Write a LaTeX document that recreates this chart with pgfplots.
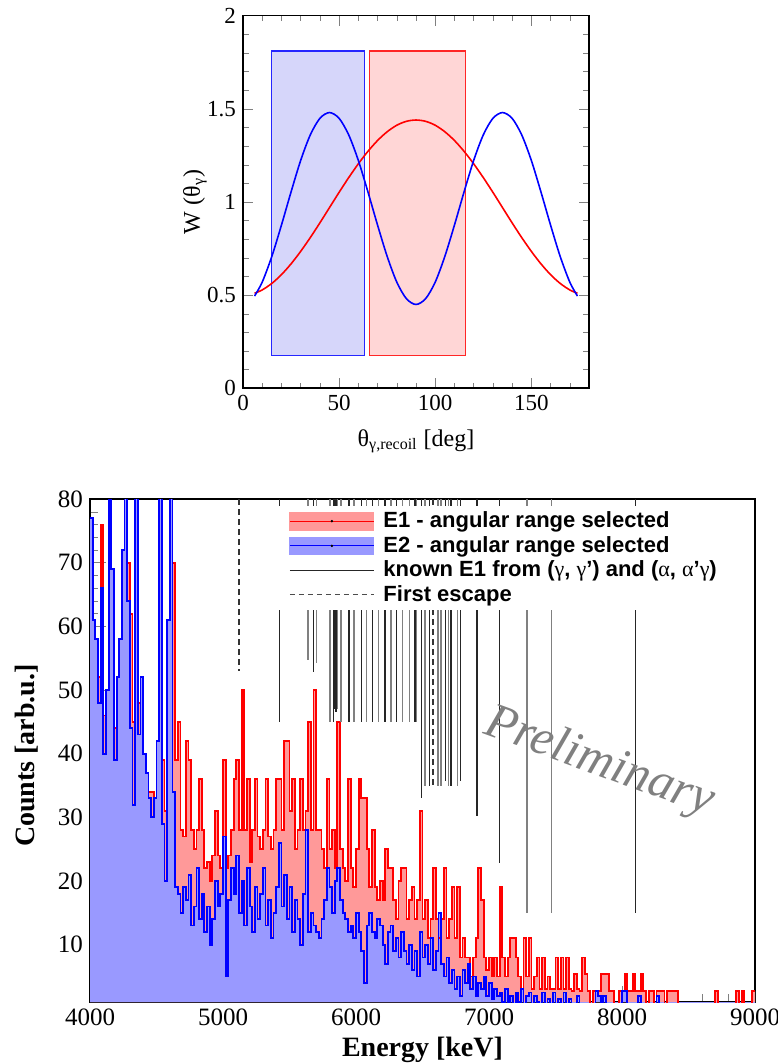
\documentclass[border=0pt]{standalone}
\usepackage{fontspec}
\setmainfont{Liberation Serif}
\setsansfont{Liberation Sans}
\usepackage{pgfplots}
\usepackage{pgfplotstable}
\pgfplotsset{compat=1.18}

\definecolor{histblue}{RGB}{153,153,255}
\definecolor{histred}{RGB}{255,153,153}
\definecolor{boxblue}{RGB}{214,214,250}
\definecolor{boxred}{RGB}{255,214,214}
\newcommand{\gr}[1]{{\rmfamily\mdseries #1}}

% 20 keV bins: E = lower bin edge, B = E2 selection, R = E1 selection
\pgfplotstableread{
E B R
4000 77 77
4020 61 61
4040 58 58
4060 48 52
4080 66 76
4100 40 46
4120 50 50
4140 130 130
4160 69 69
4180 39 44
4200 52 52
4220 58 58
4240 72 72
4260 130 130
4280 64 70
4300 44 62
4320 32 45
4340 130 130
4360 43 48
4380 52 52
4400 40 40
4420 37 37
4440 33 34
4460 30 34
4480 33 33
4500 42 42
4520 140 140
4540 29 39
4560 20 31
4580 61 61
4600 150 150
4620 34 70
4640 19 39
4660 18 45
4680 15 28
4700 19 27
4720 17 42
4740 21 39
4760 13 28
4780 16 25
4800 22 28
4820 14 36
4840 18 28
4860 12 22
4880 16 23
4900 10 20
4920 14 24
4940 20 31
4960 16 24
4980 18 22
5000 27 39
5020 5 22
5040 17 24
5060 22 28
5080 18 36
5100 24 39
5120 15 28
5140 20 50
5160 13 28
5180 22 36
5200 16 23
5220 12 28
5240 19 36
5260 14 27
5280 18 25
5300 22 28
5320 13 36
5340 17 27
5360 11 25
5380 15 28
5400 19 36
5420 26 36
5440 16 28
5460 21 42
5480 14 42
5500 19 31
5520 12 36
5540 17 25
5560 14 28
5580 10 36
5600 18 28
5620 28 31
5640 12 45
5660 15 28
5680 13 50
5700 12 28
5720 11 28
5740 14 25
5760 17 22
5780 22 36
5800 19 25
5820 15 28
5840 20 22
5860 22 45
5880 17 25
5900 15 22
5920 14 20
5940 12 36
5960 13 22
5980 11 19
6000 15 25
6020 12 36
6040 9 33
6060 4 33
6080 13 25
6100 15 19
6120 12 28
6140 11 19
6160 14 17
6180 13 20
6200 10 17
6220 7 25
6240 12 22
6260 13 22
6280 9 17
6300 11 14
6320 8 20
6340 12 22
6360 9 22
6380 7 14
6400 10 17
6420 6 19
6440 9 14
6460 5 17
6480 12 31
6500 8 14
6520 10 17
6540 7 11
6560 11 14
6580 6 22
6600 9 14
6620 15 11
6640 7 14
6660 5 22
6680 8 11
6700 4 14
6720 6 19
6740 3 11
6760 5 19
6780 2 8
6800 6 11
6820 4 8
6840 7 8
6860 3 5
6880 5 8
6900 2 11
6920 4 22
6940 3 17
6960 5 8
6980 2 6
7000 4 8
7020 1.5 5
7040 3 8
7060 2 5
7080 2.5 19
7100 1 8
7120 3 5
7140 1 8
7160 2 11
7180 0 11
7200 2.5 8
7220 1 5
7240 3 3
7260 0 11
7280 2 5
7300 2.5 11
7320 0 3
7340 2 5
7360 1 8
7380 0 3
7400 2.5 8
7420 0 3
7440 1.5 5
7460 0 3
7480 2.5 3
7500 0 8
7520 1.5 3
7540 0 8
7560 2.5 3
7580 0 8
7600 1.5 3
7620 0 2.7
7640 0 5.4
7660 2 3
7680 0 2.7
7700 0 8
7720 0 5.4
7740 0 2.7
7760 0 0
7780 0 2.7
7800 2.7 2.7
7820 1.9 2.7
7840 0 5.4
7860 1.9 5.4
7880 0 5.4
7900 0 2.7
7920 0 2.7
7940 0 0
7960 0 0
7980 0 2.7
8000 2.7 2.7
8020 2.7 5.4
8040 0 2.7
8060 0 2.7
8080 0 5.4
8100 0 2.7
8120 1.9 2.7
8140 0 5.4
8160 0 2.7
8180 0 0
8200 0 2.7
8220 0 2.7
8240 0 0
8260 1.9 2.7
8280 0 2.7
8300 0 2.7
8320 0 0
8340 0 2.7
8360 0 2.7
8380 0 2.7
8400 0 2.7
8420 0 0
8440 0 0
8460 0 0
8480 0 0
8500 0 0
8520 0 0
8540 0 0
8560 0 0
8580 0 0
8600 0 0
8620 0 0
8640 0 0
8660 0 0
8680 0 0
8700 0 2.7
8720 0 0
8740 0 0
8760 0 0
8780 0 0
8800 0 0
8820 0 0
8840 0 0
8860 0 2.7
8880 0 0
8900 0 2.7
8920 0 0
8940 0 0
8960 0 0
8980 0 2.7
9000 0 2.7
}\spectrum

\begin{document}
\begin{tikzpicture}
\useasboundingbox (0,0) rectangle (388.5pt,532pt);

% ---- angular distributions
\begin{axis}[at={(121.5pt,337.85pt)}, anchor=south west,
  scale only axis, width=173pt, height=186.3pt,
  xmin=0, xmax=180, ymin=0, ymax=2,
  xtick={0,50,100,150}, minor xtick={10,20,30,40,60,70,80,90,110,120,130,140,160,170},
  ytick={0,0.5,1,1.5,2},
  minor ytick={0.1,0.2,0.3,0.4,0.6,0.7,0.8,0.9,1.1,1.2,1.3,1.4,1.6,1.7,1.8,1.9},
  tick align=inside, major tick length=5pt, minor tick length=2.8pt,
  axis line style={line width=0.8pt},
  /pgf/number format/assume math mode=true,
  ticklabel style={font=\rmfamily\fontsize{11.5}{11.5}\selectfont},
  xlabel={θ\textsubscript{γ,recoil} [deg]},
  ylabel={W (θ\textsubscript{γ})},
  label style={font=\rmfamily\fontsize{12}{12}\selectfont},
  xlabel style={at={(axis description cs:0.5,-0.142)}, anchor=center},
  ylabel style={at={(axis description cs:-0.139,0.5)}, anchor=center}]
\addplot[draw=blue!85, fill=boxblue, line width=0.6pt]
  coordinates {(15,0.175)(63.3,0.175)(63.3,1.81)(15,1.81)(15,0.175)};
\addplot[draw=red!85, fill=boxred, line width=0.6pt]
  coordinates {(66,0.175)(115.7,0.175)(115.7,1.81)(66,1.81)(66,0.175)};
\addplot[red, line width=0.8pt, smooth] coordinates {
  (6,0.510)(10,0.528)(15,0.563)(20,0.610)(25,0.668)(30,0.735)(35,0.809)
  (40,0.888)(45,0.970)(50,1.052)(55,1.131)(60,1.205)(65,1.272)(70,1.330)
  (75,1.377)(80,1.412)(85,1.433)(90,1.440)(95,1.433)(100,1.412)(105,1.377)
  (110,1.330)(115,1.272)(120,1.205)(125,1.131)(130,1.052)(135,0.970)
  (140,0.888)(145,0.809)(150,0.735)(155,0.668)(160,0.610)(165,0.563)
  (170,0.528)(174,0.510)};
\addplot[blue, line width=0.8pt, smooth] coordinates {
  (6,0.495)(10,0.570)(15,0.708)(20,0.876)(25,1.054)(30,1.223)(35,1.360)
  (40,1.449)(45,1.480)(50,1.449)(55,1.360)(60,1.223)(65,1.054)(70,0.876)
  (75,0.708)(80,0.570)(85,0.481)(90,0.450)(95,0.481)(100,0.570)(105,0.708)
  (110,0.876)(115,1.054)(120,1.223)(125,1.360)(130,1.449)(135,1.480)
  (140,1.449)(145,1.360)(150,1.223)(155,1.054)(160,0.876)(165,0.708)
  (170,0.570)(174,0.495)};
\end{axis}

% ---- energy spectrum
\begin{axis}[at={(45pt,31pt)}, anchor=south west,
  scale only axis, width=332.5pt, height=251.5pt,
  xmin=4000, xmax=9000, ymin=1, ymax=80,
  xtick={4000,5000,6000,7000,8000,9000},
  minor xtick={4200,4400,4600,4800,5200,5400,5600,5800,6200,6400,6600,6800,
               7200,7400,7600,7800,8200,8400,8600,8800},
  ytick={10,20,30,40,50,60,70,80},
  minor ytick={2,4,...,78},
  xtick pos=left, ytick pos=left,
  tick align=inside, major tick length=8pt, minor tick length=4pt,
  axis line style={line width=0.8pt},
  scaled x ticks=false,
  /pgf/number format/1000 sep={},
  /pgf/number format/assume math mode=true,
  ticklabel style={font=\rmfamily\fontsize{12.5}{12.5}\selectfont},
  xlabel={Energy [keV]}, ylabel={Counts [arb.u.]},
  label style={font=\rmfamily\bfseries\fontsize{14}{14}\selectfont},
  xlabel style={at={(axis description cs:0.5,-0.095)}, anchor=center},
  ylabel style={at={(axis description cs:-0.095,0.49)}, anchor=center},
  legend style={at={(0.281,0.987)}, anchor=north west, draw=none, fill=white,
    inner xsep=6pt, inner ysep=1.5pt, row sep=0pt,
    font=\sffamily\bfseries\fontsize{11}{11}\selectfont,
    nodes={inner ysep=1.4pt, inner xsep=4.5pt},
    cells={anchor=west}}]
\addplot[const plot, draw=none, fill=histred, forget plot]
  table[x=E, y=R] {\spectrum} \closedcycle;
\addplot[const plot, draw=none, fill=histblue, forget plot]
  table[x=E, y=B] {\spectrum} \closedcycle;
\addplot[const plot, red, line width=0.9pt, forget plot]
  table[x=E, y=R] {\spectrum};
\addplot[const plot, blue, line width=0.9pt, forget plot]
  table[x=E, y=B] {\spectrum};

% known E1 levels
\addplot[black!85, line width=0.7pt, unbounded coords=jump, forget plot] coordinates {
  (5423,80)(5423,45)(5423,nan) (5681,80)(5681,52.9)(5681,nan)
  (5830,80)(5830,45)(5830,nan) (5842,80)(5842,47)(5842,nan)
  (5850,80)(5850,46.5)(5850,nan) (5947,80)(5947,45)(5947,nan)
  (6043,80)(6043,45)(6043,nan) (6123,80)(6123,45)(6123,nan)
  (6218,80)(6218,45)(6218,nan) (6306,80)(6306,45)(6306,nan)
  (6444,80)(6444,45)(6444,nan) (6494,80)(6494,33)(6494,nan)
  (6551,80)(6551,35)(6551,nan) (6672,80)(6672,35.7)(6672,nan)
  (6714,80)(6714,35)(6714,nan) (6784,80)(6784,35.7)(6784,nan)
  (6910,80)(6910,30.2)(6910,nan) (7078,80)(7078,22.9)(7078,nan)
  (8103,80)(8103,15)};
\addplot[black!50, line width=0.7pt, unbounded coords=jump, forget plot] coordinates {
  (5640,80)(5640,54.7)(5640,nan) (5704,80)(5704,54.3)(5704,nan)
  (5805,80)(5805,45)(5805,nan) (5862,80)(5862,47)(5862,nan)
  (5887,80)(5887,45)(5887,nan) (5985,80)(5985,45)(5985,nan)
  (6080,80)(6080,45)(6080,nan) (6168,80)(6168,45)(6168,nan)
  (6263,80)(6263,45)(6263,nan) (6351,80)(6351,45)(6351,nan)
  (6400,80)(6400,45)(6400,nan) (6456,80)(6456,45)(6456,nan)
  (6520,80)(6520,35)(6520,nan) (6617,80)(6617,35)(6617,nan)
  (6640,80)(6640,35)(6640,nan) (6697,80)(6697,35)(6697,nan)
  (6764,80)(6764,35)(6764,nan) (7285,80)(7285,15)(7285,nan)
  (7472,80)(7472,15)};
% first escape
\addplot[black!80, line width=0.7pt, dash pattern=on 3pt off 2pt,
  unbounded coords=jump, forget plot] coordinates {
  (5120,80)(5120,53)(5120,nan) (6580,80)(6580,35)};

\node[rotate=-20, text=black!50, font=\rmfamily\itshape\fontsize{25}{25}\selectfont]
  at (axis cs:7830,38.5) {Preliminary};

\addlegendimage{legend image code/.code={
  \fill[histred] (0pt,-4.4pt) rectangle (42pt,4.4pt);
  \draw[red, line width=0.6pt] (0pt,0pt) -- (42pt,0pt);
  \fill[black] (21pt,0pt) circle (0.4pt);}}
\addlegendentry{E1 - angular range selected}
\addlegendimage{legend image code/.code={
  \fill[histblue] (0pt,-4.4pt) rectangle (42pt,4.4pt);
  \draw[blue, line width=0.6pt] (0pt,0pt) -- (42pt,0pt);
  \fill[black] (21pt,0pt) circle (0.4pt);}}
\addlegendentry{E2 - angular range selected}
\addlegendimage{legend image code/.code={
  \draw[black!85, line width=0.6pt] (0pt,0pt) -- (42pt,0pt);}}
\addlegendentry{known E1 from (\gr{γ}, \gr{γ}') and (\gr{α}, \gr{α}'\gr{γ})}
\addlegendimage{legend image code/.code={
  \draw[black!70, line width=0.6pt, dash pattern=on 2.5pt off 2pt] (0pt,0pt) -- (42pt,0pt);}}
\addlegendentry{First escape}
\end{axis}
\end{tikzpicture}
\end{document}
